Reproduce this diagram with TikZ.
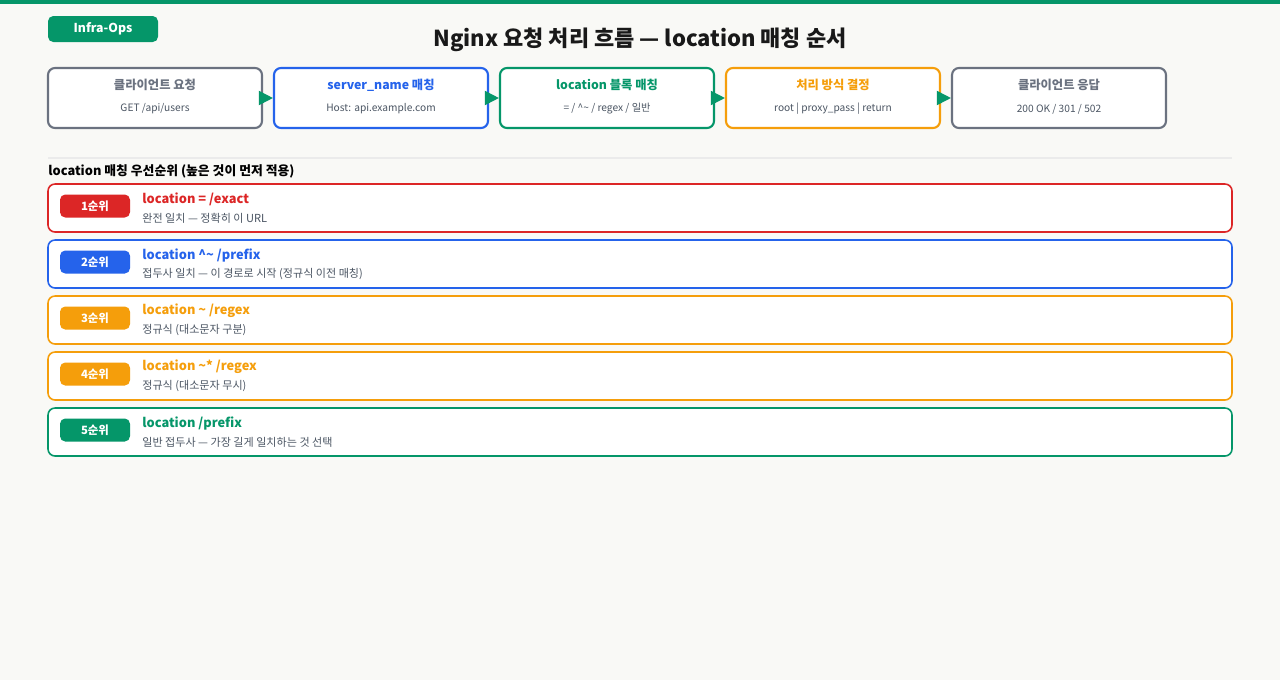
\documentclass[tikz,border=0pt]{standalone}
\usepackage{fontspec}
\setmainfont{Noto Sans CJK KR}
\usetikzlibrary{arrows.meta}
\definecolor{bgc}{HTML}{F9F9F6}
\definecolor{grn}{HTML}{059669}
\definecolor{redc}{HTML}{DC2626}
\definecolor{blu}{HTML}{2563EB}
\definecolor{org}{HTML}{F59E0B}
\definecolor{gry}{HTML}{6B7280}
\definecolor{txt}{HTML}{4B5563}
\tikzset{
  flowbox/.style={draw=#1, line width=1.2pt, rounded corners=4pt, fill=white, minimum width=214*0.02cm, minimum height=60*0.02cm, inner sep=0pt},
  rowbox/.style={draw=#1, line width=0.9pt, rounded corners=4pt, fill=white},
  badge/.style={fill=#1, rounded corners=3pt, text=white, font=\bfseries\fontsize{6.5}{7}\selectfont, minimum width=70*0.02cm, minimum height=23*0.02cm, inner sep=0pt},
  flowarrow/.style={draw=grn, line width=1pt, -{Triangle[length=8pt,width=8pt]}}
}
\begin{document}
\begin{tikzpicture}[x=0.02cm,y=-0.02cm]
  \fill[bgc] (0,0) rectangle (1280,680);
  \useasboundingbox (0,0) rectangle (1280,680);
  \fill[grn] (0,0) rectangle (1280,4);
  % header
  \node[fill=grn, rounded corners=3pt, text=white, font=\bfseries\fontsize{7}{8}\selectfont, minimum width=110*0.02cm, minimum height=26*0.02cm, inner sep=0pt] (tag) at (103,29) {Infra-Ops};
  \node[font=\bfseries\fontsize{12.5}{14}\selectfont, text=black!90] (title) at (640,40) {Nginx 요청 처리 흐름 — location 매칭 순서};
  % flow
  \node[flowbox=gry] (f1) at (155,98) {};
  \node[flowbox=blu] (f2) at (381,98) {};
  \node[flowbox=grn] (f3) at (607,98) {};
  \node[flowbox=org] (f4) at (833,98) {};
  \node[flowbox=gry] (f5) at (1059,98) {};
  \foreach \n/\c/\a/\b in {f1/gry/{클라이언트 요청}/{GET /api/users},
                           f2/blu/{server\_name 매칭}/{Host: api.example.com},
                           f3/grn/{location 블록 매칭}/{= / \^{}\textasciitilde{} / regex / 일반},
                           f4/org/{처리 방식 결정}/{root | proxy\_pass | return},
                           f5/gry/{클라이언트 응답}/{200 OK / 301 / 502}} {
    \node[text=\c, font=\bfseries\fontsize{7}{8}\selectfont] at ([yshift=-18*0.02cm]\n.north) {\a};
    \node[text=txt, font=\fontsize{5.8}{7}\selectfont] at ([yshift=-42*0.02cm]\n.north) {\b};
  }
  \draw[flowarrow] (f1) -- (f2);
  \draw[flowarrow] (f2) -- (f3);
  \draw[flowarrow] (f3) -- (f4);
  \draw[flowarrow] (f4) -- (f5);
  % priority list
  \draw[black!8, line width=1pt] (48,158) -- (1232,158);
  \node[anchor=west, font=\bfseries\fontsize{7.3}{9}\selectfont, inner sep=0pt] (head) at (48,171) {location 매칭 우선순위 (높은 것이 먼저 적용)};
  \foreach \y/\c/\k/\a/\b in {184/redc/1순위/{location = /exact}/{완전 일치 — 정확히 이 URL},
                              240/blu/2순위/{location \^{}\textasciitilde{} /prefix}/{접두사 일치 — 이 경로로 시작 (정규식 이전 매칭)},
                              296/org/3순위/{location \textasciitilde{} /regex}/{정규식 (대소문자 구분)},
                              352/org/4순위/{location \textasciitilde{}* /regex}/{정규식 (대소문자 무시)},
                              408/grn/5순위/{location /prefix}/{일반 접두사 — 가장 길게 일치하는 것 선택}} {
    \draw[rowbox=\c] (48,\y) rectangle (1232,\y+48);
    \node[badge=\c] at (95,\y+22) {\k};
    \node[anchor=west, text=\c, font=\bfseries\fontsize{7.3}{9}\selectfont, inner sep=0pt] at (142,\y+15) {\a};
    \node[anchor=west, text=txt, font=\fontsize{6.3}{7}\selectfont, inner sep=0pt] at (142,\y+34) {\b};
  }
\end{tikzpicture}
\end{document}
